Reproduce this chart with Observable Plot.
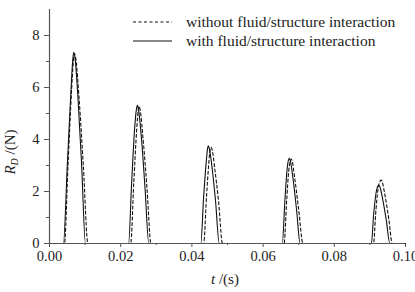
<!DOCTYPE html>
<html><head><meta charset="utf-8">
<script src="https://cdn.jsdelivr.net/npm/d3@7"></script>
<script src="https://cdn.jsdelivr.net/npm/@observablehq/plot@0.6"></script>
<style>
body{margin:0;background:#fff;}
svg text{font-family:"Liberation Serif","Times New Roman","DejaVu Serif",serif !important;}
</style></head>
<body><div id="chart"></div>
<script>
// Series: without fluid/structure interaction (dashed)
const tWithout = [0, 0.0042, 0.0052, 0.0062, 0.0067, 0.0070, 0.0074, 0.0083, 0.0095, 0.0108,
  0.0228, 0.0237, 0.0245, 0.0249, 0.0252, 0.0255, 0.0263, 0.0274, 0.0285,
  0.0433, 0.0441, 0.0447, 0.0451, 0.0454, 0.0457, 0.0464, 0.0475, 0.0486,
  0.0659, 0.0666, 0.0672, 0.0676, 0.0679, 0.0682, 0.0689, 0.0700, 0.0712,
  0.0910, 0.0917, 0.0924, 0.0929, 0.0932, 0.0935, 0.0943, 0.0953, 0.0963, 0.1];
const rWithout = [0, 0, 3.0, 5.9, 7.0, 7.3, 7.1, 5.6, 3.0, 0,
  0, 2.4, 4.4, 5.1, 5.28, 5.1, 4.0, 2.1, 0,
  0, 1.8, 3.0, 3.6, 3.7, 3.6, 2.9, 1.6, 0,
  0, 1.6, 2.8, 3.15, 3.25, 3.15, 2.5, 1.3, 0,
  0, 1.3, 2.2, 2.4, 2.44, 2.35, 1.8, 0.95, 0, 0];
// Series: with fluid/structure interaction (solid)
const tWith = [0, 0.0039, 0.0050, 0.0060, 0.0065, 0.0068, 0.0072, 0.0080, 0.0090, 0.0101,
  0.0222, 0.0231, 0.0239, 0.0244, 0.0247, 0.0250, 0.0258, 0.0268, 0.0279,
  0.0425, 0.0433, 0.0440, 0.0444, 0.0446, 0.0449, 0.0456, 0.0466, 0.0477,
  0.0654, 0.0661, 0.0667, 0.0671, 0.0674, 0.0677, 0.0684, 0.0694, 0.0704,
  0.0904, 0.0911, 0.0918, 0.0922, 0.0925, 0.0928, 0.0936, 0.0946, 0.0956, 0.1];
const rWith = [0, 0, 3.0, 5.8, 7.0, 7.35, 7.1, 5.6, 3.1, 0,
  0, 2.4, 4.4, 5.15, 5.32, 5.15, 4.1, 2.2, 0,
  0, 1.8, 3.1, 3.65, 3.76, 3.65, 3.0, 1.7, 0,
  0, 1.6, 2.8, 3.2, 3.28, 3.15, 2.5, 1.3, 0,
  0, 1.2, 2.0, 2.2, 2.25, 2.18, 1.7, 0.9, 0, 0];
const xTicks = [0, 0.02, 0.04, 0.06, 0.08, 0.10];
const xMinor = [0.01, 0.03, 0.05, 0.07, 0.09];
const yTicks = [0, 2, 4, 6, 8];
const yMinor = [1, 3, 5, 7];
const legendLabels = ["without fluid/structure interaction", "with fluid/structure interaction"];

const without = tWithout.map((t, i) => ({t, r: rWithout[i]}));
const withF = tWith.map((t, i) => ({t, r: rWith[i]}));
const axisColor = "#555";
const serif = "'Liberation Serif', 'Times New Roman', serif";

const plot = Plot.plot({
  width: 415, height: 292,
  marginLeft: 49, marginRight: 10, marginTop: 9, marginBottom: 49,
  style: {fontFamily: serif, fontSize: "14px", color: "#222", background: "#fff"},
  x: {domain: [0, 0.1]},
  y: {domain: [0, 9]},
  marks: [
    Plot.axisX(xTicks, {tickSize: 4, tickFormat: d3.format(".2f"), label: null, stroke: axisColor, tickPadding: 3, fontSize: 14.5}),
    Plot.axisX(xMinor, {tickSize: 2, text: null, label: null, stroke: axisColor}),
    Plot.axisY(yTicks, {tickSize: 5, label: null, stroke: axisColor, tickPadding: 5, fontSize: 14.5}),
    Plot.axisY(yMinor, {tickSize: 3, text: null, label: null, stroke: axisColor}),
    Plot.line(without, {x: "t", y: "r", stroke: "#111", strokeWidth: 1.1, strokeDasharray: "3,2.5", curve: "monotone-x"}),
    Plot.line(withF, {x: "t", y: "r", stroke: "#111", strokeWidth: 1.1, curve: "monotone-x"}),
    Plot.ruleY([0], {stroke: axisColor, strokeWidth: 1.2}),
    Plot.ruleX([0], {stroke: axisColor, strokeWidth: 1.2})
  ]
});
document.getElementById("chart").appendChild(plot);

const svg = d3.select(plot);
// axis titles
const xt = svg.append("text").attr("x", 225).attr("y", 284).attr("text-anchor", "middle")
  .attr("font-size", 15).attr("fill", "#222");
xt.append("tspan").attr("font-style", "italic").text("t");
xt.append("tspan").text(" /(s)");
const yt = svg.append("text").attr("transform", "translate(15,152) rotate(-90)").attr("text-anchor", "middle")
  .attr("font-size", 15).attr("fill", "#222");
yt.append("tspan").attr("font-style", "italic").text("R");
yt.append("tspan").attr("font-style", "italic").attr("font-size", 10).attr("dy", 3).text("D");
yt.append("tspan").attr("dy", -3).text(" /(N)");

// legend
const lg = svg.append("g");
[0, 1].forEach(i => {
  const y = 22 + i * 19;
  lg.append("line").attr("x1", 133).attr("x2", 172).attr("y1", y).attr("y2", y)
    .attr("stroke", "#111").attr("stroke-width", 1.1)
    .attr("stroke-dasharray", i === 0 ? "3,2.5" : null);
  lg.append("text").attr("x", 186).attr("y", y + 5).attr("text-anchor", "start")
    .attr("font-size", 15.5).attr("fill", "#222")
    .text(legendLabels[i]);
});
</script></body></html>
